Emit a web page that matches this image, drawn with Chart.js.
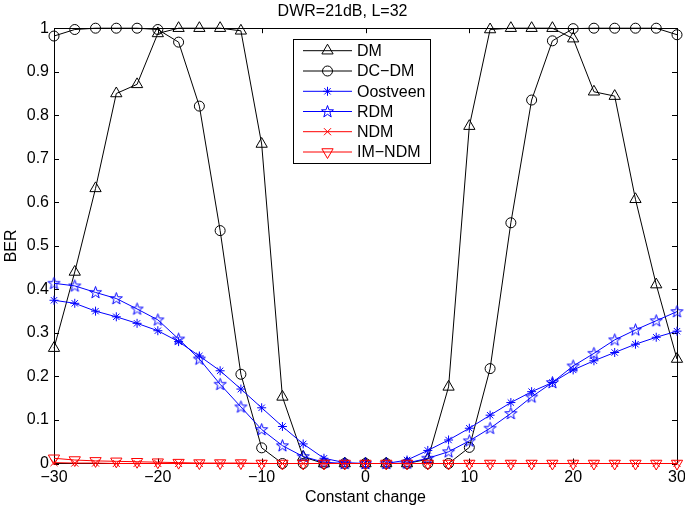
<!DOCTYPE html>
<html>
<head>
<meta charset="utf-8">
<script src="https://cdn.jsdelivr.net/npm/chart.js@4.4.0/dist/chart.umd.min.js"></script>
<style>
  html, body { margin: 0; padding: 0; background: #fff; }
  #wrap { width: 685px; height: 508px; position: relative; }
</style>
</head>
<body>
<div id="wrap"><canvas id="berChart"></canvas></div>
<script>
const constantChange = [-30, -28, -26, -24, -22, -20, -18, -16, -14, -12, -10, -8, -6, -4, -2, 0,
    2, 4, 6, 8, 10, 12, 14, 16, 18, 20, 22, 24, 26, 28, 30];

const berDM = [0.265, 0.44, 0.632, 0.85, 0.871, 0.988, 1.0, 1.0, 1.0, 0.994, 0.734, 0.153, 0.015, 0, 0, 0,
    0, 0, 0.01, 0.176, 0.775, 0.997, 1.0, 1.0, 1.0, 0.976, 0.854, 0.844, 0.607, 0.411, 0.24];
const berDCDM = [0.982, 0.997, 1.0, 1.0, 1.0, 0.997, 0.968, 0.821, 0.535, 0.205, 0.036, 0, 0, 0, 0, 0,
    0, 0, 0, 0, 0.037, 0.218, 0.553, 0.835, 0.971, 0.999, 1.0, 1.0, 1.0, 1.0, 0.985];
const berOostveen = [0.375, 0.368, 0.35, 0.337, 0.322, 0.305, 0.28, 0.247, 0.213, 0.171, 0.128, 0.085, 0.045, 0.012, 0.002, 0,
    0, 0.008, 0.03, 0.054, 0.081, 0.111, 0.14, 0.165, 0.186, 0.215, 0.236, 0.255, 0.274, 0.29, 0.304];
const berRDM = [0.414, 0.408, 0.393, 0.379, 0.355, 0.33, 0.286, 0.24, 0.182, 0.13, 0.078, 0.041, 0.016, 0.003, 0, 0,
    0, 0.001, 0.012, 0.027, 0.052, 0.081, 0.115, 0.153, 0.186, 0.224, 0.253, 0.284, 0.307, 0.328, 0.349];
const berNDM = [0.002, 0.001, 0.001, 0, 0, 0, 0, 0, 0, 0, 0, 0, 0, 0, 0, 0,
    0, 0, 0, 0, 0, 0, 0, 0, 0, 0, 0, 0, 0, 0, 0];
const berIMNDM = [0.012, 0.008, 0.006, 0.005, 0.004, 0.003, 0.002, 0.001, 0.001, 0.001, 0, 0, 0, 0, 0, 0,
    0, 0, 0, 0, 0, 0, 0, 0, 0, 0, 0, 0, 0, 0, 0];

const seriesLabels = ['DM', 'DC\u2212DM', 'Oostveen', 'RDM', 'NDM', 'IM\u2212NDM'];
const xTickStep = 10;
const yTickStep = 0.1;

const FONT = "'Liberation Sans', Arial, Helvetica, sans-serif";
Chart.defaults.font.family = FONT;
Chart.defaults.font.size = 16;
Chart.defaults.color = '#000';

// pentagram marker for RDM (MATLAB 'p')
function makePentagram(color) {
    const c = document.createElement('canvas');
    c.width = 15;
    c.height = 15;
    const g = c.getContext('2d');
    const R = 6.3, r = 2.5, cx = 7.5, cy = 7.8;
    g.beginPath();
    for (let i = 0; i < 10; i++) {
        const a = -Math.PI / 2 + i * Math.PI / 5;
        const rad = i % 2 === 0 ? R : r;
        const px = cx + Math.cos(a) * rad;
        const py = cy + Math.sin(a) * rad;
        if (i === 0) g.moveTo(px, py); else g.lineTo(px, py);
    }
    g.closePath();
    g.strokeStyle = color;
    g.lineWidth = 1;
    g.stroke();
    return c;
}
const pentagram = makePentagram('#0000ff');

function toPoints(values) {
    return constantChange.map((x, i) => ({ x, y: values[i] }));
}

function series(label, values, color, style, radius, rotation, order) {
    return {
        label,
        data: toPoints(values),
        borderColor: color,
        backgroundColor: 'rgba(0,0,0,0)',
        borderWidth: 1,
        pointStyle: style,
        pointRadius: radius,
        pointRotation: rotation,
        pointBorderColor: color,
        pointBackgroundColor: 'rgba(0,0,0,0)',
        pointBorderWidth: 1,
        tension: 0,
        clip: false,
        order
    };
}

const datasets = [
    series(seriesLabels[0], berDM, '#000000', 'triangle', 6.5, 0, 5),
    series(seriesLabels[1], berDCDM, '#000000', 'circle', 5, 0, 4),
    series(seriesLabels[2], berOostveen, '#0000ff', 'star', 4.5, 0, 3),
    series(seriesLabels[3], berRDM, '#0000ff', pentagram, 6, 0, 2),
    series(seriesLabels[4], berNDM, '#ff0000', 'crossRot', 5, 0, 1),
    series(seriesLabels[5], berIMNDM, '#ff0000', 'triangle', 6.5, 180, 0)
];

function minusLabel(v) {
    return v < 0 ? '\u2212' + Math.abs(v) : String(v);
}

// box + inward ticks on all four sides (MATLAB look)
const axesBox = {
    id: 'axesBox',
    beforeDatasetsDraw(chart) {
        const { ctx, chartArea: a, scales } = chart;
        const tick = 5;
        ctx.save();
        ctx.strokeStyle = '#000';
        ctx.lineWidth = 1;
        ctx.beginPath();
        scales.x.ticks.forEach(t => {
            const px = Math.round(scales.x.getPixelForValue(t.value)) + 0.5;
            ctx.moveTo(px, a.bottom);
            ctx.lineTo(px, a.bottom - tick);
            ctx.moveTo(px, a.top);
            ctx.lineTo(px, a.top + tick);
        });
        scales.y.ticks.forEach(t => {
            const py = Math.round(scales.y.getPixelForValue(t.value)) + 0.5;
            ctx.moveTo(a.left, py);
            ctx.lineTo(a.left + tick, py);
            ctx.moveTo(a.right, py);
            ctx.lineTo(a.right - tick, py);
        });
        ctx.stroke();
        ctx.strokeRect(Math.round(a.left) + 0.5, Math.round(a.top) + 0.5,
            Math.round(a.right - a.left), Math.round(a.bottom - a.top));
        ctx.restore();
    }
};

// legend inside the axes, upper middle
const innerLegend = {
    id: 'innerLegend',
    afterDraw(chart) {
        const { ctx } = chart;
        const box = { x: 293.5, y: 39.5, w: 137, h: 124 };
        const rowY = [50.7, 71, 91.3, 111.5, 131.7, 152];
        ctx.save();
        ctx.fillStyle = '#fff';
        ctx.fillRect(box.x, box.y, box.w, box.h);
        ctx.strokeStyle = '#000';
        ctx.lineWidth = 1;
        ctx.strokeRect(box.x, box.y, box.w, box.h);
        ctx.font = '16px ' + FONT;
        ctx.textBaseline = 'middle';
        chart.data.datasets.forEach((ds, i) => {
            const y = rowY[i];
            ctx.strokeStyle = ds.borderColor;
            ctx.beginPath();
            ctx.moveTo(303, y);
            ctx.lineTo(352, y);
            ctx.stroke();
            ctx.fillStyle = 'rgba(0,0,0,0)';
            if (Chart.helpers && Chart.helpers.drawPoint) {
                Chart.helpers.drawPoint(ctx, {
                    pointStyle: ds.pointStyle,
                    radius: ds.pointRadius,
                    rotation: ds.pointRotation,
                    borderWidth: 1
                }, 327.5, y);
            }
            ctx.fillStyle = '#000';
            ctx.fillText(ds.label, 357, y + 1);
        });
        ctx.restore();
    }
};

new Chart(document.getElementById('berChart'), {
    type: 'line',
    data: { datasets },
    options: {
        responsive: true,
        maintainAspectRatio: false,
        animation: false,
        layout: { padding: { left: 0, right: 0, top: 0, bottom: 0 } },
        plugins: {
            legend: { display: false },
            tooltip: { enabled: false },
            title: {
                display: true,
                text: 'DWR=21dB, L=32',
                color: '#000',
                font: { size: 16, weight: 'normal' },
                padding: { top: 2, bottom: 7 }
            }
        },
        scales: {
            x: {
                type: 'linear',
                min: -30,
                max: 30,
                grid: { display: false, drawTicks: false },
                border: { display: false },
                ticks: { stepSize: xTickStep, padding: 4, callback: minusLabel, maxRotation: 0 },
                title: { display: true, text: 'Constant change', padding: { top: 0, bottom: 1 } },
                afterFit(scale) {
                    scale.height = 44.5;
                    scale.paddingRight = 8;
                }
            },
            y: {
                type: 'linear',
                min: 0,
                max: 1,
                grid: { display: false, drawTicks: false },
                border: { display: false },
                ticks: {
                    stepSize: yTickStep,
                    padding: 5,
                    callback(v) {
                        if (Math.abs(v) < 1e-9) return '0';
                        if (Math.abs(v - 1) < 1e-9) return '1';
                        return v.toFixed(1);
                    }
                },
                title: { display: true, text: 'BER', padding: { top: 2, bottom: 0 } },
                afterFit(scale) {
                    scale.width = 54;
                }
            }
        }
    },
    plugins: [axesBox, innerLegend]
});
</script>
</body>
</html>
